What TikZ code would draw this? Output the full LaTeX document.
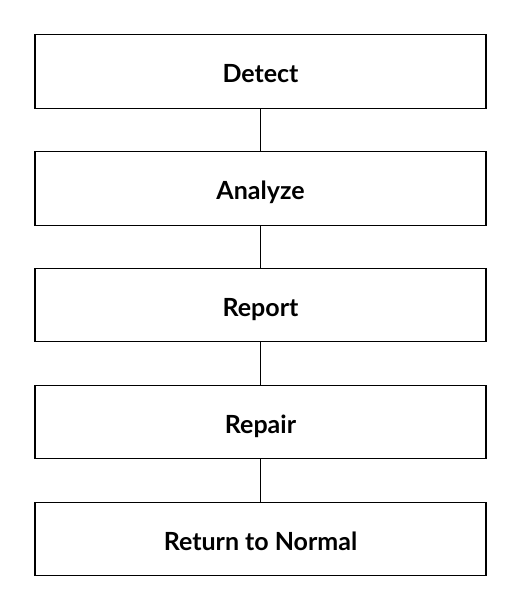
\documentclass[tikz,border=0pt]{standalone}
\usepackage{fontspec}
\setmainfont{Lato}
\begin{document}
\begin{tikzpicture}[x=1pt,y=-1pt,
  stepbox/.style={draw=black,line width=1.3pt,minimum width=451pt,minimum height=73.5pt,inner sep=0pt,text height=22pt,text depth=0pt,font=\bfseries\fontsize{25}{30}\selectfont,text=black},
  link/.style={draw=black,line width=1.3pt}]
\useasboundingbox (0,0) rectangle (516,612);
\node[stepbox] (detect) at (260.5,71.5) {Detect};
\node[stepbox] (analyze) at (260.5,188.5) {Analyze};
\node[stepbox] (report) at (260.5,305) {Report};
\node[stepbox] (repair) at (260.5,422) {Repair};
\node[stepbox] (normal) at (260.5,539) {Return to Normal};
\draw[link] (detect) -- (analyze);
\draw[link] (analyze) -- (report);
\draw[link] (report) -- (repair);
\draw[link] (repair) -- (normal);
\end{tikzpicture}
\end{document}
